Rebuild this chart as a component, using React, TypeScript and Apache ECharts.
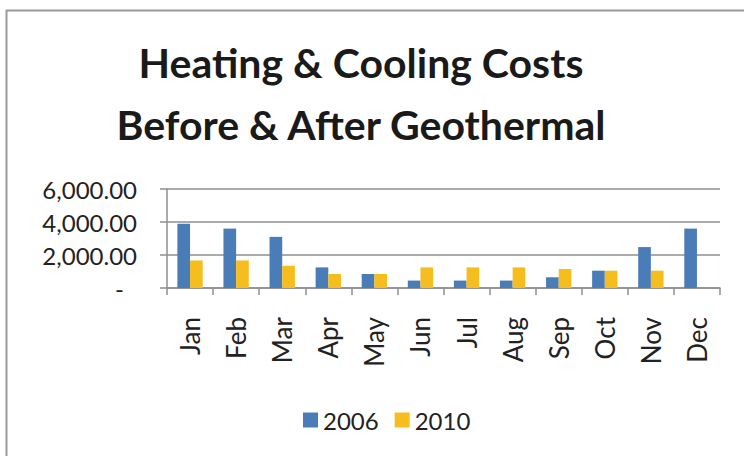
import React, { useEffect, useRef } from "react";
import * as echarts from "echarts";

const months = ["Jan", "Feb", "Mar", "Apr", "May", "Jun", "Jul", "Aug", "Sep", "Oct", "Nov", "Dec"];
const costs2006 = [3900, 3600, 3100, 1250, 850, 450, 450, 450, 650, 1050, 2480, 3600];
const costs2010 = [1670, 1670, 1350, 850, 850, 1250, 1250, 1250, 1150, 1050, 1050, null];
const titleLines = ["Heating & Cooling Costs", "Before & After Geothermal"];

const FONT = "Lato, 'Open Sans', sans-serif";

export default function App() {
  const ref = useRef<HTMLDivElement>(null);
  useEffect(() => {
    if (!ref.current) return;
    const chart = echarts.init(ref.current, null, { renderer: "svg" });
    const grey = "#8f8f8f";
    chart.setOption({
      animation: false,
      backgroundColor: "#ffffff",
      textStyle: { fontFamily: FONT },
      title: {
        text: titleLines.join("\n"),
        left: 361,
        top: 31,
        textAlign: "center",
        padding: 0,
        textStyle: { fontFamily: FONT, fontSize: 41, fontWeight: "bold", color: "#1a1a1a", lineHeight: 62 },
      },
      legend: {
        data: ["2006", "2010"],
        left: 298,
        top: 403,
        itemWidth: 15,
        itemHeight: 15,
        itemGap: 16,
        icon: "rect",
        textStyle: { fontFamily: FONT, fontSize: 24, color: "#222" },
      },
      grid: { left: 167, right: 24, top: 189, bottom: 168, containLabel: false },
      xAxis: {
        type: "category",
        data: months,
        axisLine: { lineStyle: { color: grey, width: 1.5 } },
        axisTick: { show: true, length: 7, alignWithLabel: false, lineStyle: { color: grey, width: 1.5 } },
        axisLabel: { rotate: 90, margin: 29, fontFamily: FONT, fontSize: 26, color: "#222" },
        splitLine: { show: false },
      },
      yAxis: {
        type: "value",
        min: 0,
        max: 6000,
        interval: 2000,
        axisLine: { show: true, lineStyle: { color: grey, width: 1.5 } },
        axisTick: { show: true, length: 7, lineStyle: { color: grey, width: 1.5 } },
        splitLine: { lineStyle: { color: grey, width: 1.5 } },
        axisLabel: {
          margin: 30,
          fontFamily: FONT,
          fontSize: 24,
          color: "#222",
          formatter: (v: number) =>
            v === 0
              ? "{d|-}"
              : v.toLocaleString("en-US", { minimumFractionDigits: 2, maximumFractionDigits: 2 }),
          rich: { d: { fontFamily: FONT, fontSize: 24, color: "#222", padding: [0, 13, 0, 0] } },
        },
      },
      series: [
        {
          name: "2006",
          type: "bar",
          data: costs2006,
          barGap: "0%",
          barCategoryGap: "45%",
          itemStyle: { color: "#4a7db7" },
        },
        {
          name: "2010",
          type: "bar",
          data: costs2010,
          barGap: "0%",
          barCategoryGap: "45%",
          itemStyle: { color: "#f6bd1f" },
        },
      ],
      graphic: [
        {
          type: "rect",
          shape: { x: 6.5, y: 10.5, width: 760, height: 470 },
          style: { fill: "none", stroke: "#9a9a9a", lineWidth: 2 },
          silent: true,
        },
      ],
    });
    return () => chart.dispose();
  }, []);
  return <div ref={ref} style={{ position: "fixed", left: 0, top: 0, width: 744, height: 456 }} />;
}
